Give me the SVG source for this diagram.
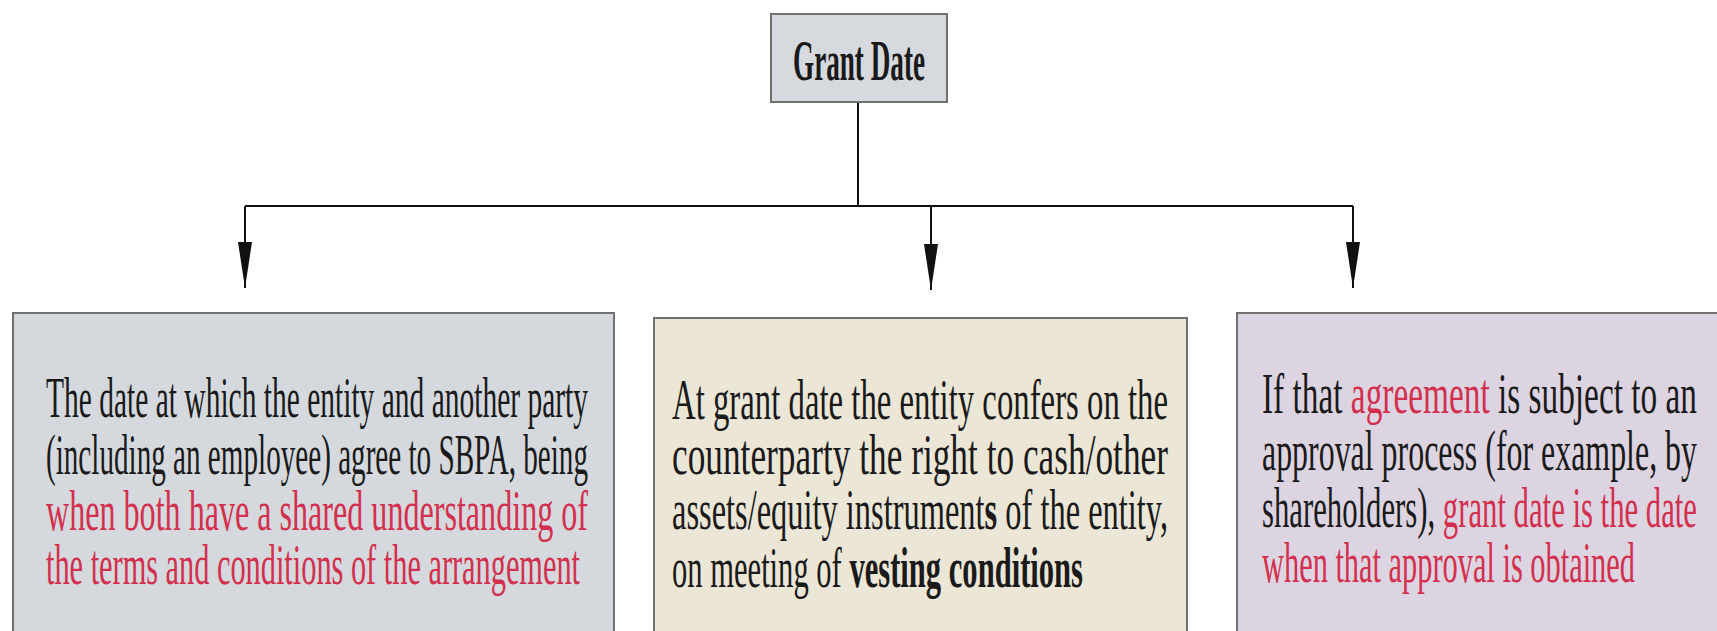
<svg xmlns="http://www.w3.org/2000/svg" width="1717" height="631" viewBox="0 0 1717 631">
<style>
.box{stroke:#707070;stroke-width:2}
.t{font-family:"Liberation Serif","Times New Roman",serif;font-size:56px;fill:#1a1a1a}
.r{fill:#d2304e}
.b{font-weight:bold}
.ln{stroke:#111;stroke-width:2;fill:none}
</style>
<defs>
<marker id="arr" markerUnits="userSpaceOnUse" markerWidth="48" markerHeight="16" refX="46" refY="8" orient="auto">
<path d="M0,1 L46,8 L0,15 z" fill="#111"/>
</marker>
</defs>
<rect width="1717" height="631" fill="#ffffff"/>
<g id="connectors">
<path class="ln" d="M858,102 V206"/>
<path class="ln" d="M245,206 H1353"/>
<path class="ln" d="M245,206 V288" marker-end="url(#arr)"/>
<path class="ln" d="M931,206 V290" marker-end="url(#arr)"/>
<path class="ln" d="M1353,206 V288" marker-end="url(#arr)"/>
</g>
<g id="grant-date">
<rect class="box" x="771" y="14" width="176" height="88" fill="#d6d9dd"/>
<text class="t b" x="793" y="80" font-size="58" textLength="132" lengthAdjust="spacingAndGlyphs">Grant Date</text>
</g>
<g id="definition">
<rect class="box" x="13" y="313" width="601" height="330" fill="#d5d9dd"/>
<text class="t" x="46" y="417" textLength="542" lengthAdjust="spacingAndGlyphs">The date at which the entity and another party</text>
<text class="t" x="46" y="474" textLength="542" lengthAdjust="spacingAndGlyphs">(including an employee) agree to SBPA, being</text>
<text class="t r" x="46" y="530" textLength="542" lengthAdjust="spacingAndGlyphs">when both have a shared understanding of</text>
<text class="t r" x="46" y="584" textLength="534" lengthAdjust="spacingAndGlyphs">the terms and conditions of the arrangement</text>
</g>
<g id="conferral">
<rect class="box" x="654" y="318" width="533" height="325" fill="#ece6d6"/>
<text class="t" x="672" y="419" textLength="496" lengthAdjust="spacingAndGlyphs">At grant date the entity confers on the</text>
<text class="t" x="672" y="474" textLength="496" lengthAdjust="spacingAndGlyphs">counterparty the right to cash/other</text>
<text class="t" x="672" y="529" textLength="496" lengthAdjust="spacingAndGlyphs">assets/equity instrument<tspan class="b">s</tspan> of the entity,</text>
<text class="t" x="672" y="587" textLength="411" lengthAdjust="spacingAndGlyphs">on meeting of <tspan class="b">vesting conditions</tspan></text>
</g>
<g id="approval">
<rect class="box" x="1237" y="313" width="490" height="330" fill="#ddd4e2"/>
<text class="t" x="1262" y="413" textLength="435" lengthAdjust="spacingAndGlyphs">If that <tspan class="r">agreement</tspan> is subject to an</text>
<text class="t" x="1262" y="470" textLength="435" lengthAdjust="spacingAndGlyphs">approval process (for example, by</text>
<text class="t" x="1262" y="527" textLength="435" lengthAdjust="spacingAndGlyphs">shareholders), <tspan class="r">grant date is the date</tspan></text>
<text class="t r" x="1262" y="582" textLength="373" lengthAdjust="spacingAndGlyphs">when that approval is obtained</text>
</g>
</svg>
